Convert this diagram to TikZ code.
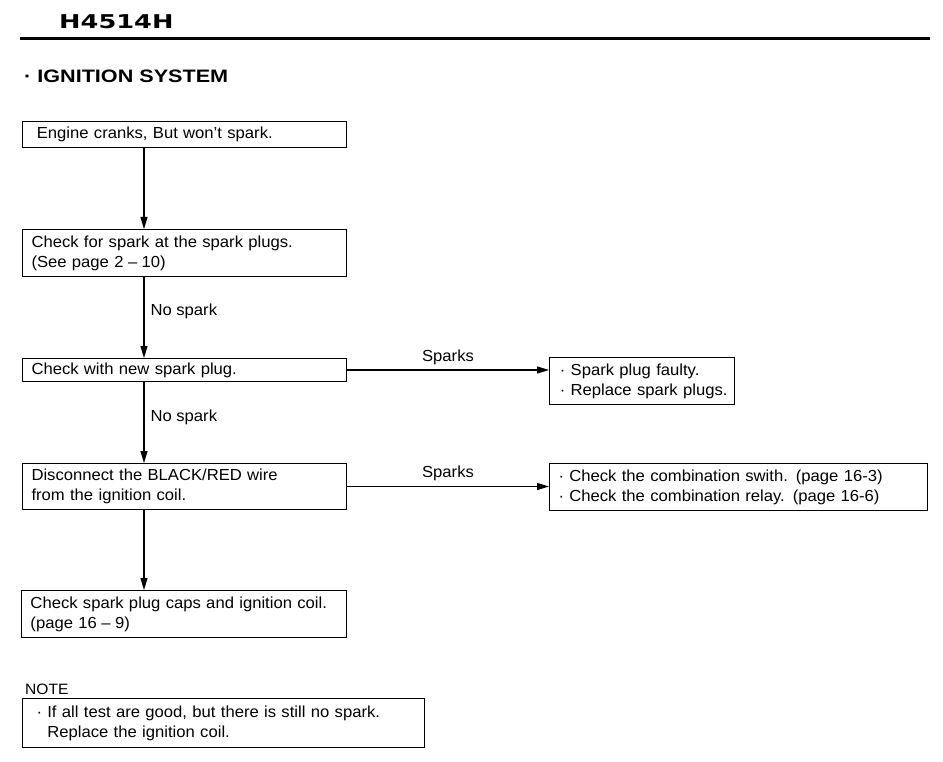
\documentclass[tikz,border=0pt]{standalone}
\usepackage{fontspec}
\setmainfont{Liberation Sans}[FakeStretch=1.04]
\newfontfamily\headfont{DejaVu Sans}[FakeStretch=1.35]
\newfontfamily\titlefont{Liberation Sans}[FakeStretch=1.2]
\usetikzlibrary{arrows.meta}
\newcommand{\bodysize}{\fontsize{16}{20}\selectfont}

\begin{document}
\begin{tikzpicture}[x=1pt, y=-1pt,
  box/.style={draw, line width=1pt, anchor=north west, align=left,
    inner xsep=10pt, inner ysep=0pt, font=\bodysize},
  flow/.style={-{Triangle[length=12pt,width=7pt]}, line width=1.1pt},
  lbl/.style={font=\bodysize, inner sep=2pt}]
\useasboundingbox (0,0) rectangle (943,762);

% heading
\node[anchor=base west, inner sep=0pt, font=\headfont\bfseries\fontsize{19}{22}\selectfont] (code) at (59,29) {H4514H};
\coordinate (ruleL) at (20,38.5);
\coordinate (ruleR) at (930,38.5);
\draw[line width=3pt] (ruleL) -- (ruleR);
\node[anchor=base west, inner sep=0pt, font=\titlefont\bfseries\fontsize{18}{22}\selectfont] (title) at (24,83) {\textperiodcentered\ IGNITION SYSTEM};

% main column
\coordinate (col) at (144,0);
\node[box, text width=306pt, minimum height=26pt, inner xsep=9pt] (start) at (22,121) {\ Engine cranks, But won't spark.};
\node[box, text width=306pt, minimum height=47pt, inner xsep=9pt] (check) at (22,229) {Check for spark at the spark plugs.\\(See page 2\;--\;10)};
\node[box, text width=306pt, minimum height=23pt, inner xsep=9pt] (newplug) at (22,358) {Check with new spark plug.};
\node[box, text width=306pt, minimum height=46pt, inner xsep=9pt] (disconnect) at (22,463) {Disconnect the BLACK/RED wire\\from the ignition coil.};
\node[box, text width=307pt, minimum height=47pt, inner xsep=9pt] (caps) at (21,590) {Check spark plug caps and ignition coil.\\(page 16\;--\;9)};

% right column
\node[box, text width=175pt, minimum height=47pt, inner xsep=5pt] (faulty) at (549,357) {\ \textperiodcentered\ Spark plug faulty.\\\ \textperiodcentered\ Replace spark plugs.};
\node[box, text width=360pt, minimum height=47pt, inner xsep=9pt] (combo) at (549,463) {\textperiodcentered\ Check the combination swith. (page 16-3)\\\textperiodcentered\ Check the combination relay. (page 16-6)};

% connectors
\draw[flow] (start.south -| col) -- (check.north -| col);
\draw[flow] (check.south -| col) -- node[lbl, right=4pt, pos=0.42] {No spark} (newplug.north -| col);
\draw[flow] (newplug.south -| col) -- node[lbl, right=4pt, pos=0.44] {No spark} (disconnect.north -| col);
\draw[flow] (disconnect.south -| col) -- (caps.north -| col);
\draw[flow] (newplug.east) -- node[lbl, above=3pt] {Sparks} (newplug.east -| faulty.west);
\draw[flow] (disconnect.east) -- node[lbl, above=3pt] {Sparks} (disconnect.east -| combo.west);

% note
\node[anchor=base west, inner sep=0pt, font=\fontsize{15}{18}\selectfont] (notehead) at (25,694) {NOTE};
\node[box, text width=374pt, minimum height=49pt, inner xsep=14pt] (note) at (22,698) {\textperiodcentered\ If all test are good, but there is still no spark.\\\phantom{\textperiodcentered\ }Replace the ignition coil.};
\end{tikzpicture}
\end{document}
